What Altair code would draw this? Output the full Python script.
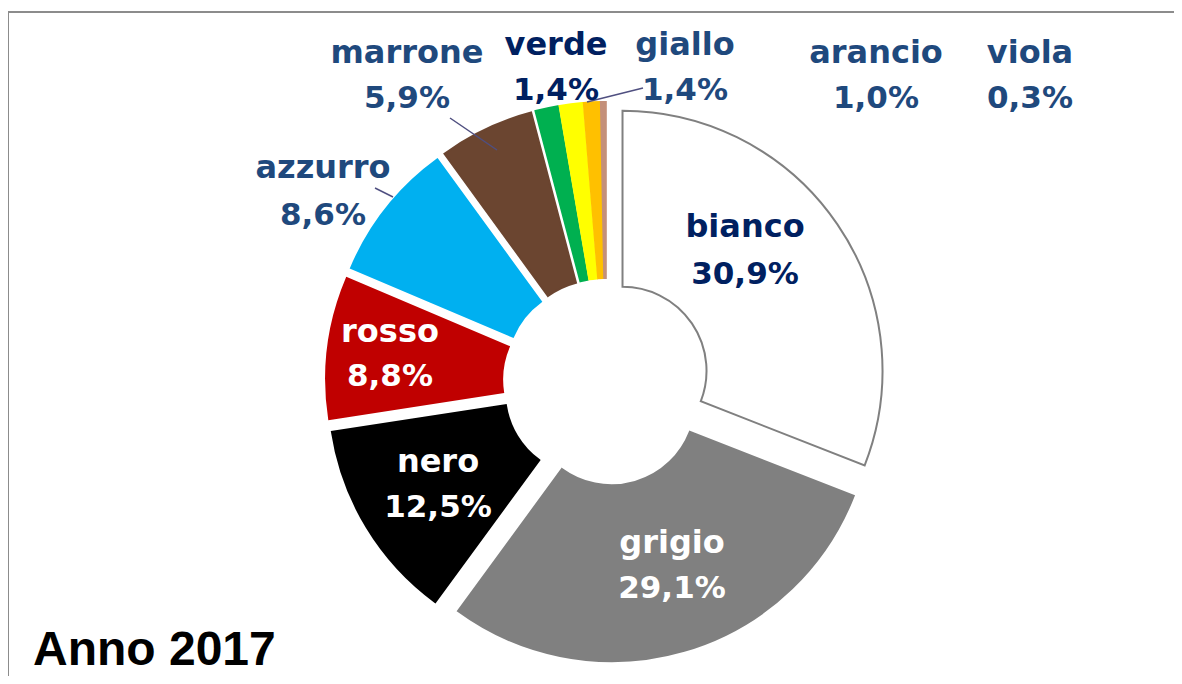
import altair as alt
import pandas as pd

# ---- data ----
categories = ["bianco", "grigio", "nero", "rosso", "azzurro", "marrone",
              "verde", "giallo", "arancio", "viola"]
values = [30.9, 29.1, 12.5, 8.8, 8.6, 5.9, 1.4, 1.4, 1.0, 0.3]
pct_text = ["30,9%", "29,1%", "12,5%", "8,8%", "8,6%", "5,9%",
            "1,4%", "1,4%", "1,0%", "0,3%"]

# ---- styles ----
slice_fill = ["#FFFFFF", "#808080", "#000000", "#C00000", "#00B0F0",
              "#6B4530", "#00B050", "#FFFF00", "#FFC000", "#C4907A"]
slice_stroke = ["#808080", "#808080", "#000000", "#C00000", "#00B0F0",
                "#6B4530", "#00B050", "#FFFF00", "#FFC000", "#C4907A"]
label_color = ["#002060", "#FFFFFF", "#FFFFFF", "#FFFFFF", "#1F497D",
               "#1F497D", "#002060", "#1F497D", "#1F497D", "#1F497D"]

# ---- layout (chart pixel coordinates) ----
W, H = 1166, 668
CX, CY, EXPLODE = 598, 374, 20
R_OUT, R_IN = 260, 84
label_x = [737, 664, 430, 382, 315, 399, 548, 677, 868, 1022]
label_y1 = [229, 545, 464, 334, 170, 55, 47, 47, 55, 55]
label_y2 = [276, 590, 509, 378, 217, 100, 92, 92, 100, 100]
leader_x1 = [442, 367, 635]
leader_y1 = [110, 180, 80]
leader_x2 = [489, 385, 579]
leader_y2 = [142, 189, 94]

slices = pd.DataFrame({
    "cat": categories, "value": values, "idx": list(range(len(values))),
    "fill": slice_fill, "stroke": slice_stroke,
})
labels = pd.DataFrame({
    "cat": categories, "pct": pct_text, "lx": label_x,
    "ly1": label_y1, "ly2": label_y2, "color": label_color,
})
leaders = pd.DataFrame({"x1": leader_x1, "y1": leader_y1,
                        "x2": leader_x2, "y2": leader_y2})
one = pd.DataFrame({"t": ["Anno 2017"]})

arcs = alt.Chart(slices).transform_joinaggregate(
    total="sum(value)"
).transform_window(
    cum="sum(value)", sort=[alt.SortField("idx")], frame=[None, 0]
).transform_calculate(
    a1="2*PI*datum.cum/datum.total",
    a0="2*PI*(datum.cum-datum.value)/datum.total",
).transform_calculate(
    cx=f"{CX} + {EXPLODE}*sin((datum.a0+datum.a1)/2)",
    cy=f"{CY} - {EXPLODE}*cos((datum.a0+datum.a1)/2)",
).mark_arc(outerRadius=R_OUT, innerRadius=R_IN, strokeWidth=2).encode(
    theta=alt.Theta("a0:Q", scale=None, stack=False),
    theta2="a1:Q",
    x=alt.X("cx:Q", scale=None, axis=None),
    y=alt.Y("cy:Q", scale=None, axis=None),
    fill=alt.Fill("fill:N", scale=None),
    stroke=alt.Stroke("stroke:N", scale=None),
)

leader_lines = alt.Chart(leaders).mark_rule(color="#4F4F80", strokeWidth=1.5).encode(
    x=alt.X("x1:Q", scale=None, axis=None),
    y=alt.Y("y1:Q", scale=None, axis=None),
    x2="x2:Q",
    y2="y2:Q",
)

name_text = alt.Chart(labels).mark_text(
    font="DejaVu Sans", fontSize=32, fontWeight="bold",
    align="center", baseline="alphabetic",
).encode(
    x=alt.X("lx:Q", scale=None, axis=None),
    y=alt.Y("ly1:Q", scale=None, axis=None),
    text="cat:N",
    color=alt.Color("color:N", scale=None),
)

pct_labels = alt.Chart(labels).mark_text(
    font="DejaVu Sans", fontSize=31, fontWeight="bold",
    align="center", baseline="alphabetic",
).encode(
    x=alt.X("lx:Q", scale=None, axis=None),
    y=alt.Y("ly2:Q", scale=None, axis=None),
    text="pct:N",
    color=alt.Color("color:N", scale=None),
)

title = alt.Chart(one).mark_text(
    font="Liberation Sans", fontSize=48, fontWeight="bold",
    align="left", baseline="alphabetic", color="#000000",
).encode(x=alt.value(25), y=alt.value(657), text="t:N")

border_top = alt.Chart(one).mark_rule(color="#8C8C8C", strokeWidth=2).encode(
    x=alt.value(0), x2=alt.value(W), y=alt.value(4)
)
border_left = alt.Chart(one).mark_rule(color="#8C8C8C", strokeWidth=2).encode(
    x=alt.value(0), y=alt.value(4), y2=alt.value(H)
)

chart = alt.layer(
    border_top, border_left, arcs, leader_lines, name_text, pct_labels, title
).properties(
    width=W, height=H, padding=0,
    autosize=alt.AutoSizeParams(type="none"),
).configure_view(stroke=None)

chart.save("out.html", embed_options={"renderer": "svg", "actions": False})
